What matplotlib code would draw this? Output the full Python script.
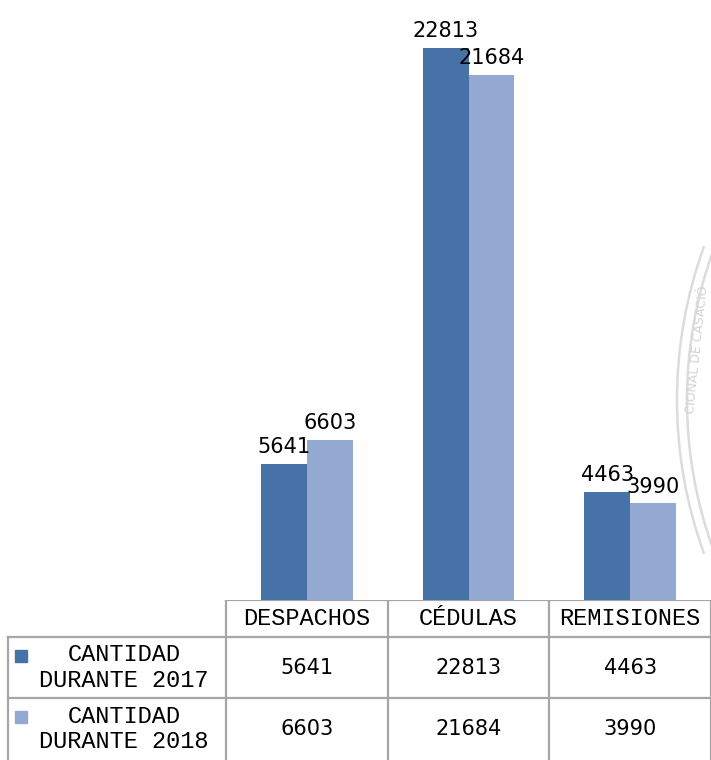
import matplotlib.pyplot as plt
from matplotlib.patches import Arc

categories = ['DESPACHOS', 'CÉDULAS', 'REMISIONES']
series_names = ['CANTIDAD\nDURANTE 2017', 'CANTIDAD\nDURANTE 2018']
values_2017 = [5641, 22813, 4463]
values_2018 = [6603, 21684, 3990]

color_2017 = '#4672a8'
color_2018 = '#94a9d2'
grid_color = '#a6a6a6'
mono = ['Liberation Mono', 'DejaVu Sans Mono']

W, H = 711, 760
fig = plt.figure(figsize=(W / 100, H / 100), dpi=100)

# faint stamp from the scanned page
bg = fig.add_axes([0, 0, 1, 1], zorder=0)
bg.set_xlim(0, W)
bg.set_ylim(H, 0)
bg.axis('off')
for r in (450, 440):
    bg.add_patch(Arc((677 + 450, 400), 2 * r, 2 * r, theta1=160, theta2=200,
                     color='#dcdcdc', lw=1.8))
bg.text(697, 350, 'CIONAL DE CASACIÓ', rotation=84, color='#d4d4d4',
        fontsize=9, ha='center', va='center', family='DejaVu Sans')

# bars
table_h = 160
ax = fig.add_axes([226 / W, table_h / H, 1 - 226 / W, 1 - table_h / H], zorder=1)
ax.patch.set_alpha(0)
x = range(len(categories))
w = 46 / 161.67
b1 = ax.bar([i - w / 2 for i in x], values_2017, w, color=color_2017)
b2 = ax.bar([i + w / 2 for i in x], values_2018, w, color=color_2018)
for bars in (b1, b2):
    for rect in bars:
        ax.annotate(str(int(rect.get_height())),
                    (rect.get_x() + rect.get_width() / 2, rect.get_height()),
                    xytext=(0, 5), textcoords='offset points',
                    ha='center', va='bottom', fontsize=15, family='DejaVu Sans')
ax.set_xlim(-0.5, 2.5)
ax.set_ylim(0, 24797)
ax.axis('off')

# data table under the bars
cat_px = 161.67
x_left = -0.5 - 226 / cat_px
x_border = -0.5 - 218 / cat_px
tb = fig.add_axes([0, 0, 1, table_h / H], zorder=1)
tb.set_xlim(x_left, 2.5)
tb.set_ylim(0, table_h)
tb.axis('off')

rows_y = [160, 123, 62, 0]
tb.plot([-0.5, 2.5], [rows_y[0]] * 2, color=grid_color, lw=1.6)
for yy in rows_y[1:3]:
    tb.plot([x_border, 2.5], [yy, yy], color=grid_color, lw=1.6)
tb.plot([x_border] * 2, [rows_y[1], 0], color=grid_color, lw=1.6)
for i in range(len(categories) + 1):
    tb.plot([i - 0.5] * 2, [rows_y[0], 0], color=grid_color, lw=1.6)

for i, cat in enumerate(categories):
    tb.text(i, (rows_y[0] + rows_y[1]) / 2, cat, ha='center', va='center',
            fontsize=17, family=mono)

label_x = x_left + 124 / cat_px
for r, (name, vals, col) in enumerate(zip(series_names,
                                          [values_2017, values_2018],
                                          [color_2017, color_2018])):
    top, bottom = rows_y[r + 1], rows_y[r + 2]
    mid = (top + bottom) / 2
    tb.text(label_x, mid, name, ha='center', va='center', fontsize=17,
            family=mono, linespacing=1.15)
    tb.plot(x_left + 21 / cat_px, top - 19, marker='s', ms=9, color=col, ls='none')
    for i, v in enumerate(vals):
        tb.text(i, mid, str(v), ha='center', va='center', fontsize=15,
                family='DejaVu Sans')

fig.savefig('out.png', dpi=100)
